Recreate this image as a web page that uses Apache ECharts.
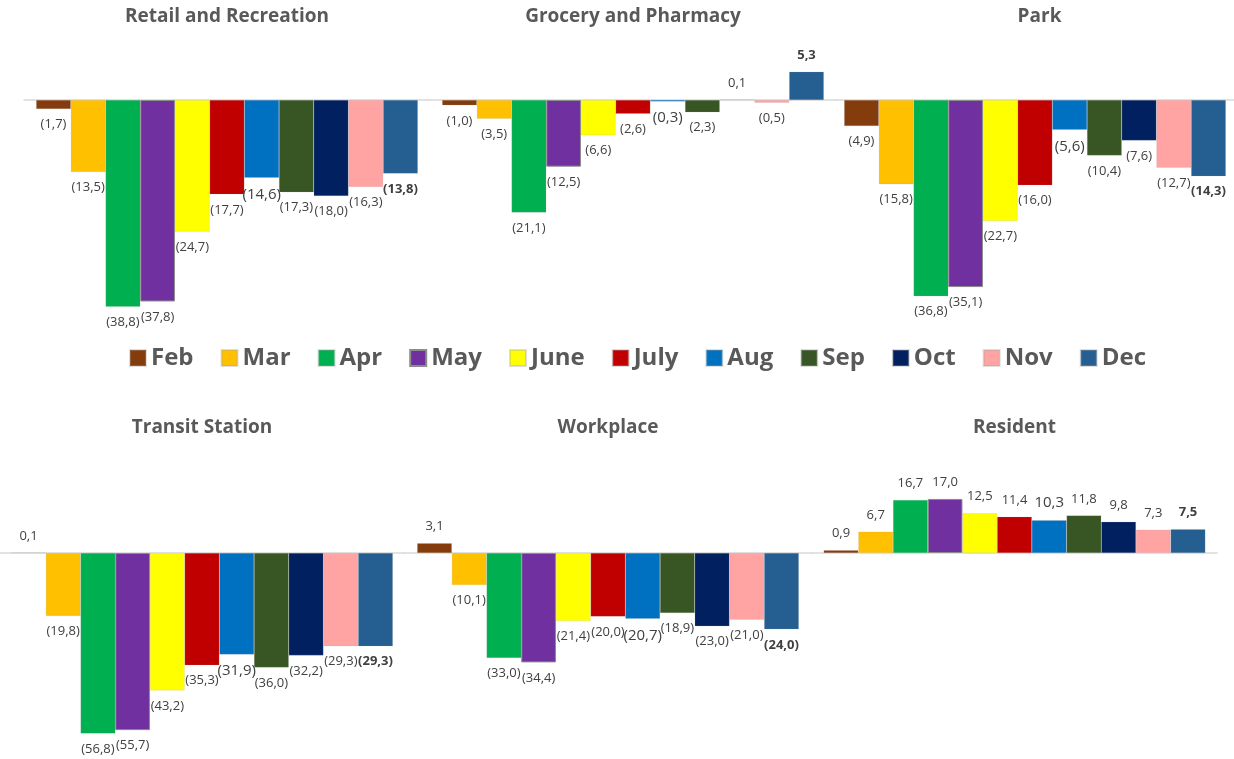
<!DOCTYPE html>
<html>
<head>
<meta charset="utf-8">
<title>Mobility by month</title>
<script src="https://cdn.jsdelivr.net/npm/echarts@6/dist/echarts.min.js"></script>
<style>
  html, body { margin: 0; padding: 0; background: #fff; }
  #chart { width: 1234px; height: 759px; }
</style>
</head>
<body>
<div id="chart"></div>
<script>
// months (one series per month, as in the legend)
const months = ['Feb', 'Mar', 'Apr', 'May', 'June', 'July', 'Aug', 'Sep', 'Oct', 'Nov', 'Dec']
const monthColors = ['#843C0C', '#FFC000', '#00B050', '#7030A0', '#FFFF00', '#C00000',
  '#0070C0', '#375623', '#002060', '#FFA3A3', '#255E91']

const panelTitles = ['Retail and Recreation', 'Grocery and Pharmacy', 'Park',
  'Transit Station', 'Workplace', 'Resident']

// values per panel, Feb..Dec
const retail = [-1.7, -13.5, -38.8, -37.8, -24.7, -17.7, -14.6, -17.3, -18.0, -16.3, -13.8]
const grocery = [-1.0, -3.5, -21.1, -12.5, -6.6, -2.6, -0.3, -2.3, 0.1, -0.5, 5.3]
const park = [-4.9, -15.8, -36.8, -35.1, -22.7, -16.0, -5.6, -10.4, -7.6, -12.7, -14.3]
const transit = [0.1, -19.8, -56.8, -55.7, -43.2, -35.3, -31.9, -36.0, -32.2, -29.3, -29.3]
const workplace = [3.1, -10.1, -33.0, -34.4, -21.4, -20.0, -20.7, -18.9, -23.0, -21.0, -24.0]
const resident = [0.9, 6.7, 16.7, 17.0, 12.5, 11.4, 10.3, 11.8, 9.8, 7.3, 7.5]

const panelData = [retail, grocery, park, transit, workplace, resident]

// layout of the six plot areas
const panels = [
  { left: 24, width: 406, top: 46.7, height: 266.5, min: -40, max: 10, titleY: 17 },
  { left: 430, width: 406, top: 46.7, height: 266.5, min: -40, max: 10, titleY: 17 },
  { left: 836, width: 407, top: 46.7, height: 266.5, min: -40, max: 10, titleY: 17 },
  { left: 0, width: 404, top: 489.4, height: 254.4, min: -60, max: 20, titleY: 428 },
  { left: 404, width: 408, top: 489.4, height: 254.4, min: -60, max: 20, titleY: 428 },
  { left: 812, width: 405, top: 489.4, height: 254.4, min: -60, max: 20, titleY: 428 }
]

const FONT = '"Open Sans", "Noto Sans", sans-serif'

function fmt(v) {
  const s = Math.abs(v).toFixed(1).replace('.', ',')
  return v < 0 ? '(' + s + ')' : s
}

const grids = []
const xAxes = []
const yAxes = []
const series = []
const graphics = []

panels.forEach((p, i) => {
  grids.push({ left: p.left, top: p.top, width: p.width, height: p.height, containLabel: false })
  xAxes.push({
    gridIndex: i,
    type: 'category',
    data: [''],
    axisLine: { onZero: true, lineStyle: { color: '#d9d9d9', width: 1.5 } },
    axisTick: { show: false },
    axisLabel: { show: false },
    splitLine: { show: false }
  })
  yAxes.push({
    gridIndex: i,
    type: 'value',
    min: p.min,
    max: p.max,
    show: false,
    splitLine: { show: false }
  })
  graphics.push({
    type: 'text',
    x: p.left + p.width / 2,
    y: p.titleY,
    style: {
      text: panelTitles[i],
      font: 'bold 19px ' + FONT,
      fill: '#595959',
      align: 'center',
      verticalAlign: 'middle',
      textAlign: 'center',
      textVerticalAlign: 'middle'
    }
  })
  months.forEach((m, k) => {
    const v = panelData[i][k]
    series.push({
      name: m,
      type: 'bar',
      xAxisIndex: i,
      yAxisIndex: i,
      barWidth: 34.7,
      barGap: '0%',
      data: [v],
      itemStyle: {
        color: monthColors[k],
        borderColor: m === 'May' ? '#8c8c8c' : 'rgba(160,160,160,0.35)',
        borderWidth: m === 'May' ? 1 : 0.5
      },
      label: {
        show: true,
        position: v < 0 ? 'bottom' : 'top',
        distance: v < 0 ? 9 : 10,
        formatter: () => fmt(v),
        color: '#404040',
        fontFamily: FONT,
        fontSize: m === 'Aug' ? 15 : 13,
        fontWeight: m === 'Dec' ? 'bold' : 'normal'
      },
      emphasis: { disabled: true },
      animation: false
    })
  })
})

const chart = echarts.init(document.getElementById('chart'))
chart.setOption({
  animation: false,
  legend: {
    data: months,
    left: 129,
    top: 345,
    padding: 0,
    itemGap: 27,
    itemWidth: 16,
    itemHeight: 16,
    icon: 'rect',
    textStyle: {
      color: '#595959',
      fontFamily: FONT,
      fontSize: 24,
      fontWeight: 'bold',
      lineHeight: 26
    },
    selectedMode: false
  },
  grid: grids,
  xAxis: xAxes,
  yAxis: yAxes,
  series: series,
  graphic: graphics
})
</script>
</body>
</html>
